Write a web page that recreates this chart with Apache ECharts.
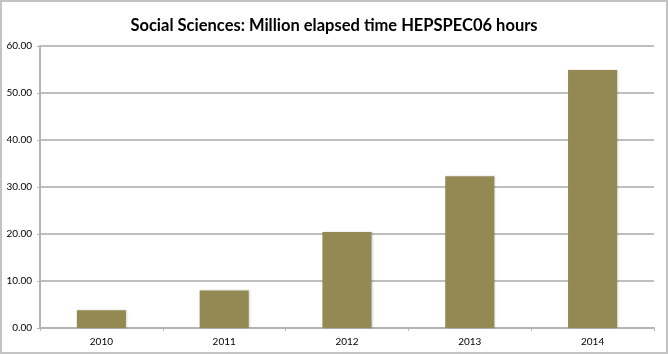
<!DOCTYPE html>
<html>
<head>
<meta charset="UTF-8">
<title>Social Sciences</title>
<script type="text/javascript" src="https://cdn.jsdelivr.net/npm/echarts@6/dist/echarts.min.js"></script>
<style>
  html, body { margin: 0; padding: 0; background: #fff; }
  #main { width: 668px; height: 354px; box-sizing: border-box; border: 2px solid #c3c3c3; }
</style>
</head>
<body>
<div id="main"></div>
<script type="text/javascript">
  // years on the x axis
  var years = ['2010', '2011', '2012', '2013', '2014'];
  // million elapsed time HEPSPEC06 hours
  var hours = [3.8, 8.0, 20.4, 32.3, 54.9];

  var chart = echarts.init(document.getElementById('main'));

  var option = {
    animation: false,
    title: {
      text: 'Social Sciences: Million elapsed time HEPSPEC06 hours',
      left: 'center',
      top: 10,
      textStyle: {
        fontFamily: 'Lato',
        fontWeight: 'bold',
        fontSize: 16.5,
        color: '#000'
      }
    },
    grid: {
      left: 38,
      right: 12,
      top: 44,
      bottom: 24
    },
    xAxis: {
      type: 'category',
      data: years,
      axisLine: { lineStyle: { color: '#b4b4b4', width: 2 } },
      axisTick: { show: true, length: 3, lineStyle: { color: '#b4b4b4', width: 1 } },
      axisLabel: { fontFamily: 'Lato', fontSize: 10, color: '#000', margin: 9 }
    },
    yAxis: {
      type: 'value',
      min: 0,
      max: 60,
      interval: 10,
      axisLine: { show: true, lineStyle: { color: '#b4b4b4', width: 2 } },
      axisTick: { show: true, length: 3, lineStyle: { color: '#b4b4b4', width: 1 } },
      axisLabel: {
        fontFamily: 'Lato',
        fontSize: 10,
        color: '#000',
        margin: 8,
        formatter: function (v) { return v.toFixed(2); }
      },
      splitLine: { lineStyle: { color: '#bfbfbf', width: 2 } }
    },
    series: [{
      name: 'hours',
      type: 'bar',
      data: hours,
      barWidth: '40%',
      itemStyle: {
        color: '#938953',
        shadowColor: 'rgba(0,0,0,0.15)',
        shadowBlur: 2,
        shadowOffsetX: 1,
        shadowOffsetY: 0
      }
    }]
  };
  chart.setOption(option);
</script>
</body>
</html>
